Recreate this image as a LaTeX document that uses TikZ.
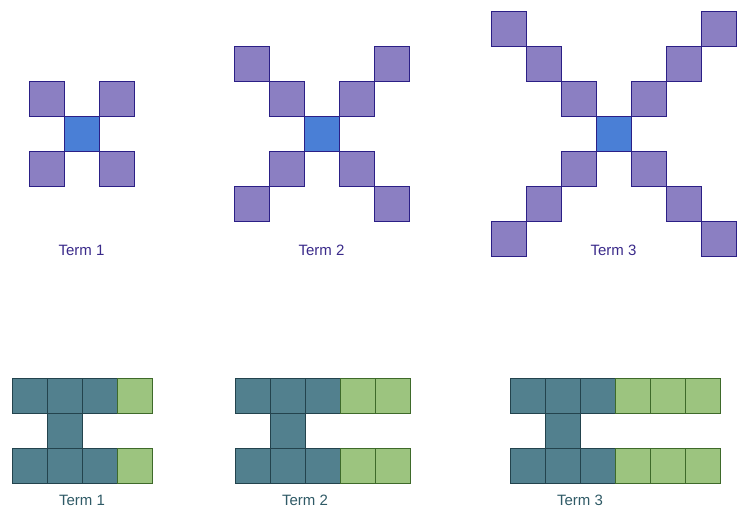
\documentclass[tikz,border=0pt]{standalone}
\usepackage{fontspec}
\setmainfont{Liberation Sans}
\definecolor{pfill}{HTML}{8B7FC2}
\definecolor{pline}{HTML}{2B1F86}
\definecolor{bfill}{HTML}{4A7FD6}
\definecolor{tfill}{HTML}{52808E}
\definecolor{tline}{HTML}{23434D}
\definecolor{gfill}{HTML}{9CC47F}
\definecolor{gline}{HTML}{3E6A2A}
\definecolor{ptext}{HTML}{3A2A8A}
\definecolor{ttext}{HTML}{2F5A66}
\begin{document}
\begin{tikzpicture}[x=1pt,y=-1pt,
  sq/.style={draw,line width=1.3pt,minimum size=35pt,inner sep=0pt,anchor=north west},
  psq/.style={sq,fill=pfill,draw=pline},
  csq/.style={sq,fill=bfill,draw=pline},
  tsq/.style={sq,fill=tfill,draw=tline},
  gsq/.style={sq,fill=gfill,draw=gline},
  lab/.style={font=\fontsize{15}{18}\selectfont}]
\useasboundingbox (0,0) rectangle (750,525);
% top row
\foreach \cx/\n/\t in {64/1/a,304/2/b,596/3/c}{
  \node[csq] (c\t) at (\cx,116) {};
  \foreach \k in {1,...,\n}{
    \node[psq] (\t ul\k) at (\cx-35*\k,116-35*\k) {};
    \node[psq] (\t ur\k) at (\cx+35*\k,116-35*\k) {};
    \node[psq] (\t dl\k) at (\cx-35*\k,116+35*\k) {};
    \node[psq] (\t dr\k) at (\cx+35*\k,116+35*\k) {};
  }
  \node[lab,text=ptext] (pl\t) at (\cx+17.5,250) {Term \n};
}
% bottom row
\foreach \x/\n/\t in {12/1/a,235/2/b,510/3/c}{
  \foreach \i in {0,1,2}{
    \node[tsq] (\t t\i) at (\x+35*\i,378) {};
    \node[tsq] (\t b\i) at (\x+35*\i,448) {};
  }
  \node[tsq] (\t m) at (\x+35,413) {};
  \foreach \k in {1,...,\n}{
    \node[gsq] (\t gt\k) at (\x+70+35*\k,378) {};
    \node[gsq] (\t gb\k) at (\x+70+35*\k,448) {};
  }
  \node[lab,text=ttext] (tl\t) at (\x+70,500) {Term \n};
}
\end{tikzpicture}
\end{document}
